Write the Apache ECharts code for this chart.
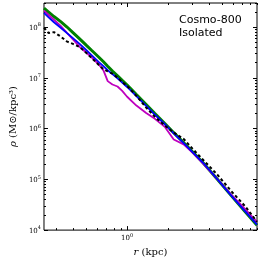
<!DOCTYPE html>
<html>
<head>
<meta charset="utf-8">
<script src="https://cdn.jsdelivr.net/npm/echarts@6/dist/echarts.min.js"></script>
<style>html,body{margin:0;padding:0;background:#fff}#c{width:261px;height:262px}</style>
</head>
<body>
<div id="c"></div>
<script>
// radius (kpc)
const radius = [0.245, 0.265, 0.29, 0.325, 0.36, 0.4, 0.45, 0.5, 0.55, 0.62, 0.67, 0.72, 0.78, 0.85, 0.92, 1.0, 1.17, 1.38, 1.6, 1.9, 2.2, 2.6, 3.05, 3.6, 4.6, 5.8, 7.4, 9.0];
// density profiles (Msun/kpc^3)
const rhoGreen = [2.38e8, 1.99e8, 1.62e8, 1.29e8, 1.02e8, 7.83e7, 5.81e7, 4.43e7, 3.47e7, 2.56e7, 2.08e7, 1.70e7, 1.37e7, 1.105e7, 8.93e6, 7.24e6, 4.68e6, 2.97e6, 1.98e6, 1.25e6, 8.33e5, 5.32e5, 3.42e5, 2.15e5, 1.01e5, 4.85e4, 2.28e4, 1.25e4];
const rhoBlue = [1.91e8, 1.56e8, 1.25e8, 9.78e7, 7.73e7, 6.08e7, 4.65e7, 3.55e7, 2.78e7, 2.05e7, 1.70e7, 1.42e7, 1.19e7, 9.80e6, 8.09e6, 6.63e6, 4.38e6, 2.81e6, 1.89e6, 1.21e6, 8.08e5, 5.20e5, 3.36e5, 2.15e5, 1.01e5, 4.85e4, 2.31e4, 1.28e4];
const rhoMagenta = [2.13e8, 1.74e8, 1.40e8, 1.06e8, 7.83e7, 5.74e7, 4.05e7, 3.17e7, 2.52e7, 1.84e7, 1.41e7, 8.65e6, 7.41e6, 6.78e6, 5.55e6, 4.25e6, 2.85e6, 2.04e6, 1.56e6, 1.07e6, 6.13e5, 4.91e5, 3.29e5, 2.06e5, 1.01e5, 5.07e4, 2.55e4, 1.46e4];
const rhoDashed = [9.78e7, 7.66e7, 8.00e7, 6.55e7, 5.25e7, 4.69e7, 4.02e7, 3.15e7, 2.46e7, 1.80e7, 1.48e7, 1.35e7, 1.21e7, 1.01e7, 8.28e6, 6.93e6, 4.44e6, 2.60e6, 1.71e6, 1.14e6, 8.37e5, 6.27e5, 3.93e5, 2.46e5, 1.24e5, 5.93e4, 2.91e4, 1.46e4];
// ticks
const xMajor = [1];
const xMinor = [0.3, 0.4, 0.5, 0.6, 0.7, 0.8, 0.9, 2, 3, 4, 5, 6, 7, 8, 9];
const yMajor = [1e4, 1e5, 1e6, 1e7, 1e8];
const yMinor = [];
[1e4, 1e5, 1e6, 1e7, 1e8].forEach(d => { for (let k = 2; k <= 9; k++) { if (k * d <= 3e8) yMinor.push(k * d); } });
const labels = ['Cosmo-800', 'Isolated'];

const pairs = ys => radius.map((r, i) => [r, ys[i]]);
const expFmt = v => '{b|10}{s|' + Math.round(Math.log10(v)) + '}';
const tickRich = {
  b: {fontFamily: 'DejaVu Serif', fontSize: 7, color: '#000', verticalAlign: 'bottom', lineHeight: 9},
  s: {fontFamily: 'DejaVu Serif', fontSize: 5, color: '#000', verticalAlign: 'top', lineHeight: 9, padding: [0, 0, 3, 0]}
};
const XMIN = 0.245, XMAX = 9, YMIN = 1e4, YMAX = 3e8;
function xAx(pos, vals, len, lab) {
  return {type: 'log', logBase: 10, min: XMIN, max: XMAX, position: pos, gridIndex: 0,
    axisLine: {show: false}, splitLine: {show: false},
    axisTick: {show: true, inside: true, length: len, customValues: vals, lineStyle: {color: '#000', width: 1}},
    axisLabel: lab ? {show: true, customValues: xMajor, formatter: expFmt, rich: tickRich, margin: 3} : {show: false},
    name: lab ? '{i|r} (kpc)' : '', nameLocation: 'middle', nameGap: 15,
    nameTextStyle: {fontFamily: 'DejaVu Serif', fontSize: 10, color: '#000', rich: {i: {fontFamily: 'DejaVu Serif', fontStyle: 'italic', fontSize: 10}}}
  };
}
function yAx(pos, vals, len, lab) {
  return {type: 'log', logBase: 10, min: YMIN, max: YMAX, position: pos, gridIndex: 0,
    axisLine: {show: false}, splitLine: {show: false},
    axisTick: {show: true, inside: true, length: len, customValues: vals, lineStyle: {color: '#000', width: 1}},
    axisLabel: lab ? {show: true, customValues: yMajor, formatter: expFmt, rich: tickRich, margin: 3} : {show: false},
    name: lab ? '{i|ρ} (M⊙/kpc³)' : '', nameLocation: 'middle', nameGap: 23, nameRotate: 90,
    nameTextStyle: {fontFamily: 'DejaVu Serif', fontSize: 10, color: '#000', rich: {i: {fontFamily: 'DejaVu Serif', fontStyle: 'italic', fontSize: 10}}}
  };
}
const chart = echarts.init(document.getElementById('c'), null, {renderer: 'canvas'});
chart.setOption({
  animation: false,
  backgroundColor: '#fff',
  title: {text: labels.join('\n'), left: 179, top: 14, padding: 0,
    textStyle: {fontFamily: 'DejaVu Sans', fontSize: 11, fontWeight: 'normal', color: '#000', lineHeight: 13}},
  grid: {left: 32, right: 4, top: 3, bottom: 27, show: true, borderColor: '#000', borderWidth: 1, backgroundColor: 'transparent'},
  xAxis: [xAx('bottom', xMajor, 4, true), xAx('bottom', xMinor, 2, false), xAx('top', xMajor, 4, false), xAx('top', xMinor, 2, false)],
  yAxis: [yAx('left', yMajor, 4, true), yAx('left', yMinor, 2, false), yAx('right', yMajor, 4, false), yAx('right', yMinor, 2, false)],
  series: [
    {type: 'line', data: pairs(rhoGreen), symbol: 'none', lineStyle: {color: '#008000', width: 3}, z: 2},
    {type: 'line', data: pairs(rhoMagenta), symbol: 'none', lineStyle: {color: '#bf00bf', width: 1.8}, z: 3},
    {type: 'line', data: pairs(rhoBlue), symbol: 'none', lineStyle: {color: '#0000ff', width: 1.8}, z: 4},
    {type: 'line', data: pairs(rhoDashed), symbol: 'none', lineStyle: {color: '#000', width: 2, type: [3, 2.5]}, z: 5}
  ]
});
</script>
</body>
</html>
